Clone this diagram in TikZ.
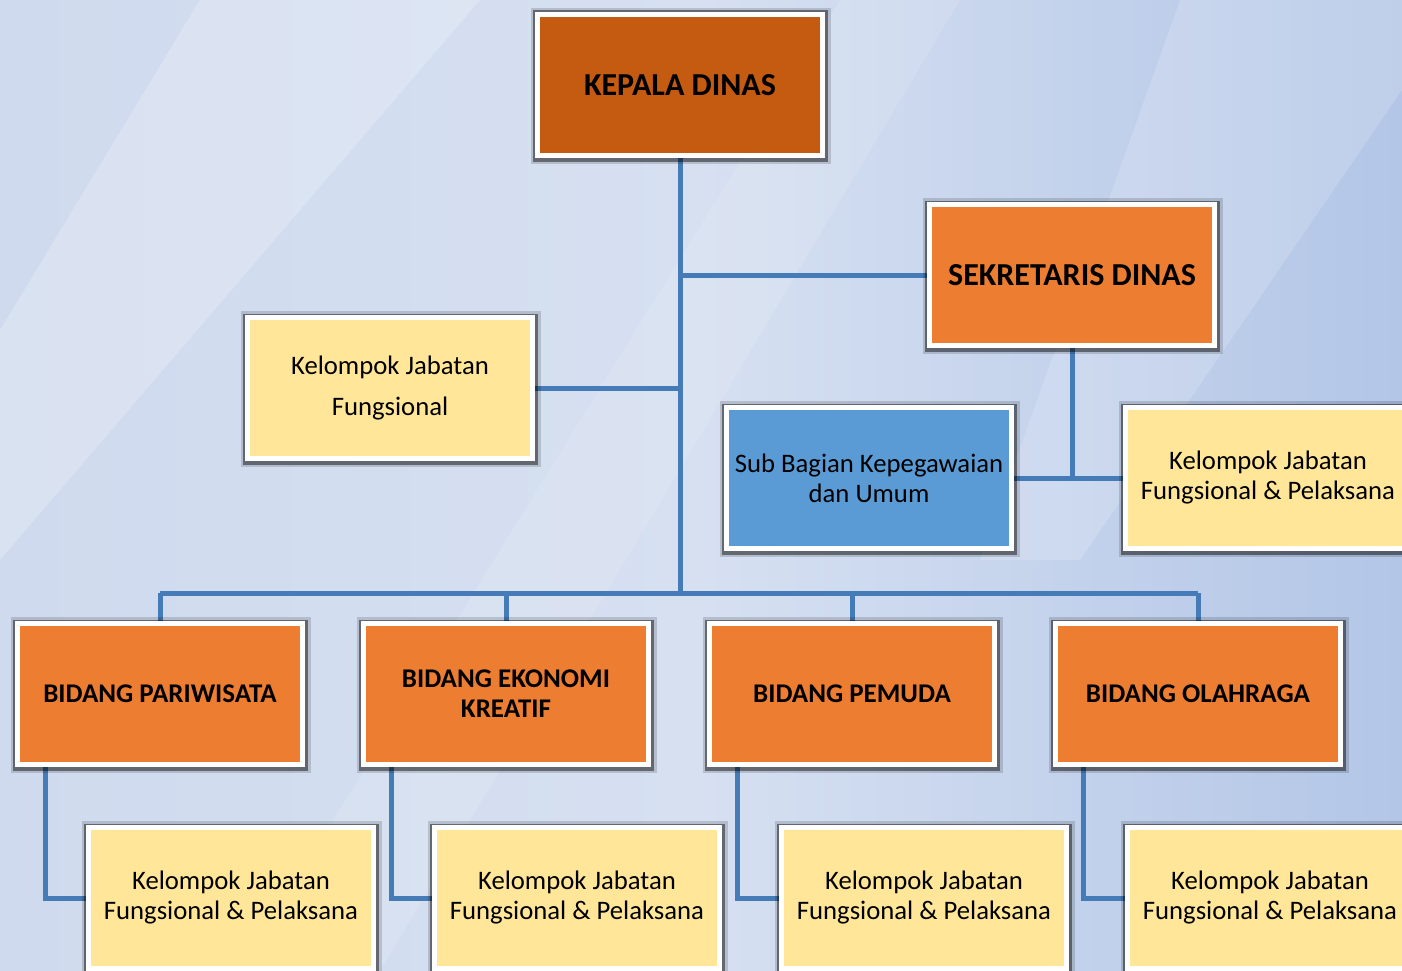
\documentclass[tikz,border=0pt]{standalone}
\usepackage{fontspec}
\setmainfont{Carlito}
\usepackage{xcolor}
\usepackage{tikz}
\usetikzlibrary{positioning,shadows}

\definecolor{headfill}{HTML}{C55A11}
\definecolor{unitfill}{HTML}{ED7D31}
\definecolor{groupfill}{HTML}{FFE699}
\definecolor{subfill}{HTML}{5B9BD5}
\definecolor{linkblue}{HTML}{457BB6}
\definecolor{bgleft}{HTML}{CFDAEE}
\definecolor{bgmid}{HTML}{D6E0F1}
\definecolor{bgdark}{HTML}{B3C6E7}

\pgfdeclarelayer{bg}
\pgfdeclarelayer{edges}
\pgfsetlayers{bg,edges,main}

\begin{document}
\begin{tikzpicture}[
  x=1pt, y=1pt,
  line/.style={draw=linkblue, line width=5pt},
  box/.style={draw=white, line width=5pt, minimum width=285pt, minimum height=141pt, align=center, inner sep=0pt,
    general shadow={draw=black, fill=black, line width=15pt, opacity=0.15, shadow xshift=0.5pt, shadow yshift=-1pt},
    general shadow={draw=black, fill=black, line width=10pt, opacity=0.45, shadow xshift=0.5pt, shadow yshift=-1pt}},
  head/.style={box, fill=headfill, font=\fontsize{32}{36}\selectfont\bfseries},
  unit/.style={box, fill=unitfill, font=\fontsize{27}{30}\selectfont\bfseries},
  group/.style={box, fill=groupfill, font=\fontsize{26.7}{30}\selectfont},
  sub/.style={box, fill=subfill, font=\fontsize{26.7}{30}\selectfont}
]
\path[use as bounding box] (0,0) rectangle (1402,-971);
\clip (0,0) rectangle (1402,-971);

% background
\begin{pgfonlayer}{bg}
\shade[left color=bgleft, right color=bgdark, middle color=bgmid] (0,0) rectangle (1402,-971);
\fill[white, opacity=0.22] (200,0) -- (480,0) -- (0,-560) -- (0,-330) -- cycle;
\fill[white, opacity=0.12] (840,0) -- (960,0) -- (380,-971) -- (240,-971) -- cycle;
\fill[white, opacity=0.16] (1180,0) -- (1402,0) -- (1402,-90) -- (1080,-560) -- (980,-560) -- cycle;
\end{pgfonlayer}

% top levels
\node[head] (kd) at (680,-85) {KEPALA DINAS};
\node[head, fill=unitfill] (sd) at (1072,-275) {SEKRETARIS DINAS};
\node[group, font=\fontsize{26.7}{41}\selectfont] (kf) at (390,-388) {Kelompok Jabatan\\Fungsional};
\node[sub] (sb) at (869,-478) {Sub Bagian Kepegawaian\\dan Umum};
\node[group] (kp) at (1268,-478) {Kelompok Jabatan\\Fungsional \& Pelaksana};

% bidang row
\node[unit] (b1) at (160,-694) {BIDANG PARIWISATA};
\node[unit] (b2) at (506,-694) {BIDANG EKONOMI\\KREATIF};
\node[unit] (b3) at (852,-694) {BIDANG PEMUDA};
\node[unit] (b4) at (1198,-694) {BIDANG OLAHRAGA};

% groups under each bidang
\node[group] (k1) at (231,-898) {Kelompok Jabatan\\Fungsional \& Pelaksana};
\node[group] (k2) at (577,-898) {Kelompok Jabatan\\Fungsional \& Pelaksana};
\node[group] (k3) at (924,-898) {Kelompok Jabatan\\Fungsional \& Pelaksana};
\node[group] (k4) at (1270,-898) {Kelompok Jabatan\\Fungsional \& Pelaksana};

\coordinate (hub) at (680,-593);

% connectors
\begin{pgfonlayer}{edges}
\draw[line] (kd.south) -- (hub);
\draw[line] (sd.west) -- (sd.west -| kd.south);
\draw[line] (kf.east) -- (kf.east -| kd.south);
\draw[line] (sd.south) -- (sd.south |- sb.east);
\draw[line] (sb.east) -- (kp.west);

\draw[line] (b1.north |- hub) -- (b4.north |- hub);
\draw[line] (b1.north) -- (b1.north |- hub);
\draw[line] (b2.north) -- (b2.north |- hub);
\draw[line] (b3.north) -- (b3.north |- hub);
\draw[line] (b4.north) -- (b4.north |- hub);

\draw[line] ([xshift=30pt]b1.south west) |- (k1.west);
\draw[line] ([xshift=30pt]b2.south west) |- (k2.west);
\draw[line] ([xshift=30pt]b3.south west) |- (k3.west);
\draw[line] ([xshift=30pt]b4.south west) |- (k4.west);
\end{pgfonlayer}
\end{tikzpicture}
\end{document}
